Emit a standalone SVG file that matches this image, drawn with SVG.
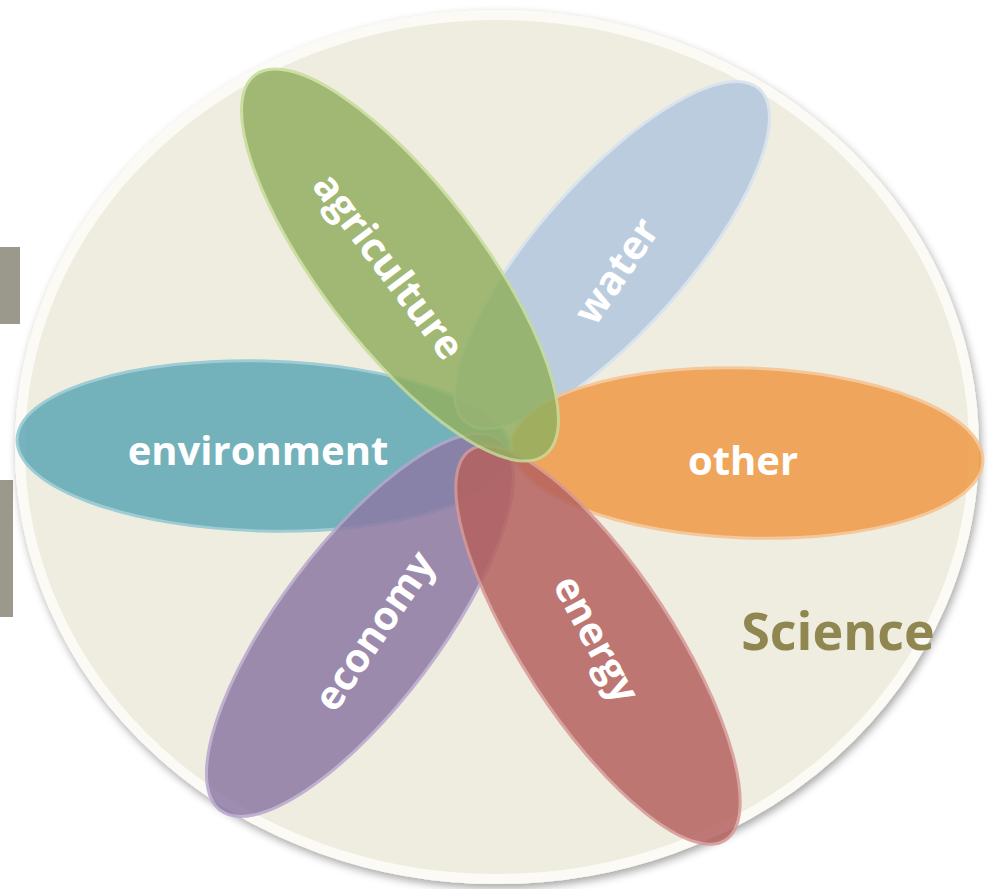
<svg xmlns="http://www.w3.org/2000/svg" width="988" height="889" viewBox="0 0 988 889">
<defs>
<filter id="sh" x="-10%" y="-10%" width="120%" height="120%">
<feGaussianBlur in="SourceAlpha" stdDeviation="4"/>
<feOffset dx="2" dy="4" result="b"/>
<feFlood flood-color="#000" flood-opacity="0.35"/>
<feComposite in2="b" operator="in"/>
<feMerge><feMergeNode/><feMergeNode in="SourceGraphic"/></feMerge>
</filter>
<style>
.lbl{font-family:"Open Sans","Liberation Sans",sans-serif;font-weight:bold;font-size:40px;fill:#ffffff;text-anchor:middle;dominant-baseline:central}
.petal{stroke-width:3;opacity:0.85}
</style>
</defs>
<rect width="988" height="889" fill="#ffffff"/>
<rect x="0" y="247" width="20" height="77" fill="#9b998b"/>
<rect x="0" y="480" width="13" height="137" fill="#9b998b"/>
<g id="science">
<ellipse cx="497" cy="447" rx="477" ry="432" fill="#efece0" stroke="#fbfaf5" stroke-width="10" filter="url(#sh)"/>
<text x="838" y="629" font-family="Open Sans, Liberation Sans, sans-serif" font-weight="bold" font-size="52" fill="#8f8650" text-anchor="middle" dominant-baseline="central">Science</text>
</g>
<g id="environment">
<ellipse class="petal" cx="264" cy="446" rx="247" ry="85" transform="rotate(1.5 264 446)" fill="#5ea7b5" stroke="#8fc7d2"/>
<text class="lbl" x="258" y="449">environment</text>
</g>
<g id="water">
<ellipse class="petal" cx="612" cy="255" rx="222" ry="75" transform="rotate(-48.5 612 255)" fill="#b3c7de" stroke="#d6e2f0"/>
<text class="lbl" x="615" y="270" transform="rotate(-56 615 270)">water</text>
</g>
<g id="other">
<ellipse class="petal" cx="747" cy="453" rx="236" ry="85" transform="rotate(2 747 453)" fill="#ef9a46" stroke="#f7c28f"/>
<text class="lbl" x="743" y="459">other</text>
</g>
<g id="economy">
<ellipse class="petal" cx="360" cy="625" rx="232" ry="80" transform="rotate(-53 360 625)" fill="#8e7aa5" stroke="#b6a6cc"/>
<text class="lbl" x="373" y="630" transform="rotate(-56 373 630)">economy</text>
</g>
<g id="energy">
<ellipse class="petal" cx="598" cy="645" rx="233" ry="75" transform="rotate(56.8 598 645)" fill="#b5625f" stroke="#d69896"/>
<text class="lbl" x="598" y="638" transform="rotate(62 598 638)">energy</text>
</g>
<g id="agriculture">
<ellipse class="petal" cx="400" cy="265" rx="239" ry="80" transform="rotate(52.6 400 265)" fill="#93b061" stroke="#c6dc98"/>
<text class="lbl" x="390" y="265" transform="rotate(53 390 265)">agriculture</text>
</g>
<g id="connectors"></g>
</svg>
